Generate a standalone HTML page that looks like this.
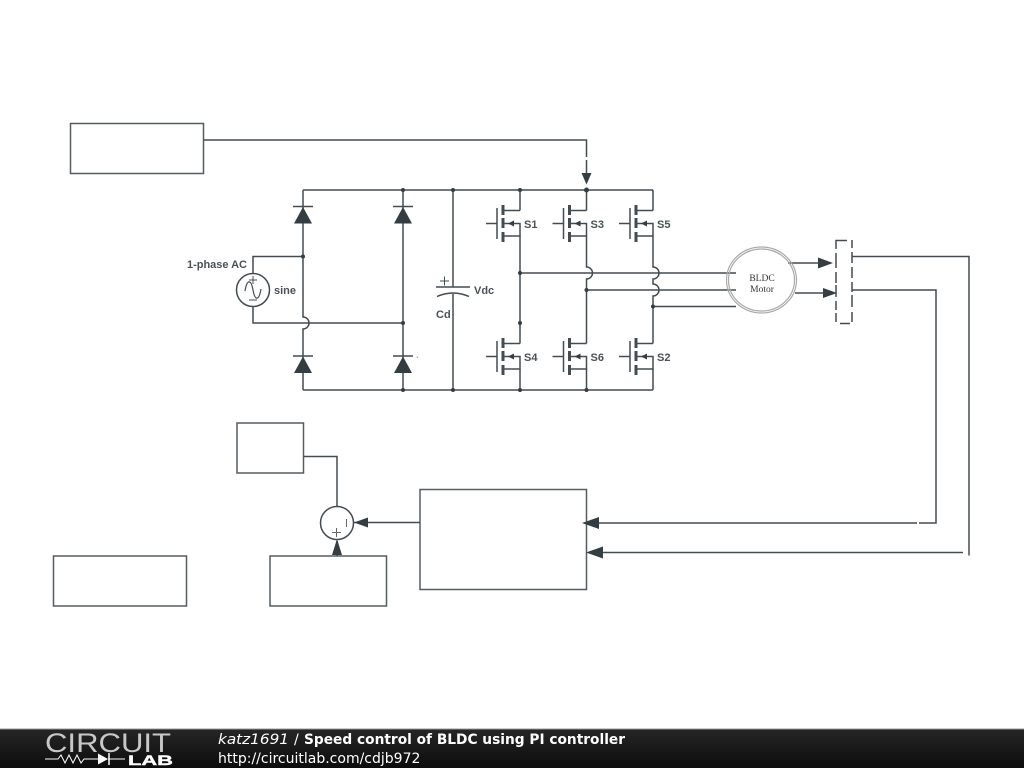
<!DOCTYPE html>
<html><head><meta charset="utf-8"><style>
html,body{margin:0;padding:0;background:#fff}
svg{display:block;position:absolute;left:0;top:0;filter:blur(.3px)}
</style></head><body>
<svg width="1024" height="768" viewBox="0 0 1024 768" xmlns="http://www.w3.org/2000/svg">
<defs>
<linearGradient id="g" x1="0" y1="0" x2="0" y2="1"><stop offset="0" stop-color="#262626"/><stop offset="1" stop-color="#0c0c0c"/></linearGradient>
<g id="m" fill="none" stroke="#434c50" stroke-width="1.5">
<path d="M486 223.500H497M497 208V239" />
<path d="M503 205V215M503 218V228M503 232V242" stroke-width="3"/>
<path d="M503 210.500H520M503 236H520V223.500H510"/>
<path d="M503 223.500H512"/>
<path d="M508 223.500L514 220.500V226.500Z" fill="#343d42" stroke="none"/>
</g>
<g id="d"><path d="M293 206.500H313" stroke="#434c50" stroke-width="1.500"/><path d="M303 207L312 223.500H294Z" fill="#343d42"/></g>
</defs>
<g fill="none" stroke="#555d61" stroke-width="1.500">
<rect x="70.500" y="123.500" width="133" height="50"/>
<rect x="237" y="423" width="66.500" height="50"/>
<rect x="53.500" y="556" width="133" height="50"/>
<rect x="270" y="556" width="116.500" height="50"/>
<rect x="420" y="489.500" width="166.500" height="100"/>
</g>
<g fill="none" stroke="#434c50" stroke-width="1.500">
<path d="M203.500 140H586.500V157M586.500 160V180"/>
<path d="M303 190H653M303 390H653"/>
<path d="M303 190V317a6 6 0 0 1 0 12V390"/>
<path d="M403 190V390M453 190V287M453 294V390"/>
<path d="M253 273V256.500H303M253 307V323H403"/>
<path d="M520 190V210.500M586.500 190V210.500M653 190V210.500"/>
<path d="M520 236V343.500M520 369V390"/>
<path d="M586.500 236V267a6 6 0 0 1 0 12V343.500M586.500 369V390"/>
<path d="M653 236V267a6 6 0 0 1 0 12V284a6 6 0 0 1 0 12V343.500M653 369V390"/>
<path d="M520 273H736M586.500 290H736M653 306.500H736"/>
<path d="M436 287H470"/>
<path d="M437 296.500Q453 289.500 469 296.500"/>
<path d="M440 281H449M444.500 276.500V285.500" stroke-width="1"/>
<circle cx="253" cy="290" r="16.500" fill="#fff"/>
<path d="M245 291C247 279 251 279 253 290S259 301 261 289" stroke-width="1.200"/>
<path d="M249 280H257M253 276V284M249 300H257" stroke-width="1"/>
<path d="M788 263H820M795 293H825"/>
<path d="M852 256.500H969V555.500M852 290H936V523H919M917 523H597"/>
<path d="M603 552.500H963"/>
<path d="M303.500 456.500H337V506.500M354 522.500H420M337 541V556"/>
<circle cx="337" cy="523" r="16.500" fill="#fff"/>
<path d="M332 532.500H341M336.500 528V537M346.500 519V527" stroke-width="1" stroke="#666"/>
</g>
<path d="M847 240.500H836V249M836 253V268M836 272V283M836 285V297M836 301V310M836 313V322M840 323.500H850M852 322V312M852 307V295M852 292V282M852 278V267M852 263V252M852 248V240" fill="none" stroke="#434c50" stroke-width="1.500"/>
<ellipse cx="761.500" cy="280" rx="35" ry="33" fill="none" stroke="#aaa" stroke-width="1.200"/>
<ellipse cx="761.500" cy="280" rx="33" ry="31" fill="none" stroke="#aaa" stroke-width="1.200"/>
<use href="#d"/><use href="#d" x="100"/><use href="#d" y="149.500"/><use href="#d" x="100" y="149.500"/>
<use href="#m"/><use href="#m" x="66.500"/><use href="#m" x="133"/>
<use href="#m" y="133"/><use href="#m" x="66.500" y="133"/><use href="#m" x="133" y="133"/>
<g fill="#343d42">
<path d="M586.500 184.500L581.500 173H591.500Z"/>
<path d="M833 263L818 257.500V268.500Z"/>
<path d="M837 293L823 288V298Z"/>
<path d="M582 523L599 517V529Z"/>
<path d="M586 552.500L603 546.500V558.500Z"/>
<path d="M354 522.500L368 517.500V527.500Z"/>
<path d="M337 539L342 555H332Z"/>
<circle cx="403" cy="190" r="2"/><circle cx="453" cy="190" r="2"/><circle cx="520" cy="190" r="2"/><circle cx="586.500" cy="190" r="2.500"/>
<circle cx="303" cy="256.500" r="2"/><circle cx="403" cy="323" r="2"/>
<circle cx="403" cy="390" r="2"/><circle cx="453" cy="390" r="2"/><circle cx="520" cy="390" r="2"/><circle cx="586.500" cy="390" r="2"/>
<circle cx="520" cy="273" r="2"/><circle cx="520" cy="323" r="2"/><circle cx="586.500" cy="290" r="2"/><circle cx="653" cy="306.500" r="2"/>
</g>
<g font-family="'Liberation Sans',sans-serif" font-weight="bold" font-size="11" fill="#4a5256">
<text x="187" y="268" textLength="60">1-phase AC</text>
<text x="274" y="294">sine</text>
<text x="474" y="294">Vdc</text>
<text x="436" y="318">Cd</text>
<text x="524" y="228">S1</text><text x="590.500" y="228">S3</text><text x="657" y="228">S5</text>
<text x="524" y="361">S4</text><text x="590.500" y="361">S6</text><text x="657" y="361">S2</text>
</g>
<text x="416" y="363" font-size="8" fill="#555" font-family="'Liberation Sans',sans-serif">`</text>
<g font-family="'Liberation Serif',serif" font-size="9.500" fill="#333" text-anchor="middle">
<text x="762" y="281">BLDC</text><text x="762" y="292">Motor</text>
</g>
<rect x="0" y="729" width="1024" height="39" fill="url(#g)"/>
<rect x="0" y="728.500" width="1024" height="1" fill="#999"/>
<text x="45" y="752" font-family="'Liberation Sans',sans-serif" font-size="27" fill="#c8c8c8" textLength="126" lengthAdjust="spacingAndGlyphs">CIRCUIT</text>
<text x="128" y="765" font-family="'Liberation Sans',sans-serif" font-size="14" font-weight="bold" fill="#fff" stroke="#fff" stroke-width=".4" textLength="45" lengthAdjust="spacingAndGlyphs">LAB</text>
<path d="M45 759H58L61 755L65 763L69 755L73 763L77 755L81 763L84 759H98M108 759H125" fill="none" stroke="#fff" stroke-width="1"/>
<path d="M98 753.500L108 759L98 764.500Z" fill="#fff"/><path d="M109 753V765" stroke="#fff" stroke-width="1.500"/>
<g font-family="'DejaVu Sans',sans-serif" font-size="14" fill="#fff">
<text x="218" y="744" font-style="italic" textLength="71" lengthAdjust="spacingAndGlyphs">katz1691</text>
<text x="294" y="744">/</text>
<text x="304" y="744" font-weight="bold" textLength="321" lengthAdjust="spacingAndGlyphs">Speed control of BLDC using PI controller</text>
<text x="218" y="763">http://circuitlab.com/cdjb972</text>
</g>
</svg>
</body></html>
